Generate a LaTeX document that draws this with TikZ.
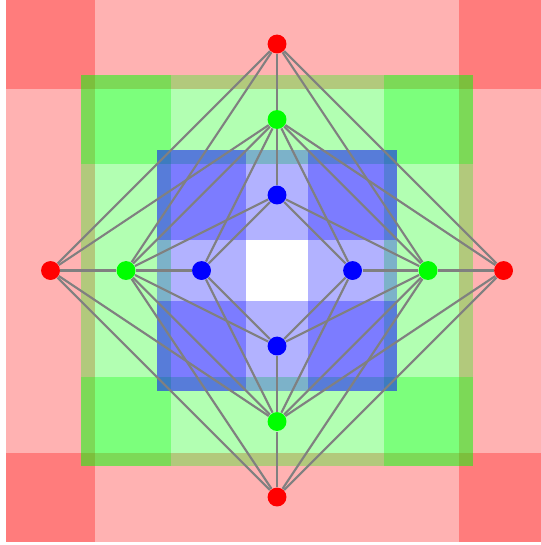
\documentclass[tikz,border=0pt]{standalone}
\usepackage{tikz}
\pgfdeclarelayer{bands}
\pgfdeclarelayer{edges}
\pgfsetlayers{bands,edges,main}
\tikzset{
  band/.style={fill opacity=0.3},
  edge/.style={draw=gray, line width=0.8pt},
  vertex/.style={circle, inner sep=0pt, minimum size=2.5mm},
  rv/.style={vertex, fill=red},
  gv/.style={vertex, fill=green},
  bv/.style={vertex, fill=blue},
}
\begin{document}
\begin{tikzpicture}
  \clip (-3.669,-3.635) rectangle (3.483,3.583);

  \node[rv] (rt) at (0,3) {};
  \node[rv] (rl) at (-3,0) {};
  \node[rv] (rr) at (3,0) {};
  \node[rv] (rb) at (0,-3) {};
  \node[gv] (gt) at (0,2) {};
  \node[gv] (gl) at (-2,0) {};
  \node[gv] (gr) at (2,0) {};
  \node[gv] (gb) at (0,-2) {};
  \node[bv] (bt) at (0,1) {};
  \node[bv] (bl) at (-1,0) {};
  \node[bv] (br) at (1,0) {};
  \node[bv] (bb) at (0,-1) {};

  \begin{pgfonlayer}{bands}
  % outer frame
  \fill[red, band] (-3.59,2.41) rectangle (3.59,3.59);
  \fill[red, band] (-3.59,-3.59) rectangle (3.59,-2.41);
  \fill[red, band] (-3.59,-3.59) rectangle (-2.41,3.59);
  \fill[red, band] (2.41,-3.59) rectangle (3.59,3.59);
  % middle frame
  \fill[green, band] (-2.59,1.41) rectangle (2.59,2.59);
  \fill[green, band] (-2.59,-2.59) rectangle (2.59,-1.41);
  \fill[green, band] (-2.59,-2.59) rectangle (-1.41,2.59);
  \fill[green, band] (1.41,-2.59) rectangle (2.59,2.59);
  % inner frame
  \fill[blue, band] (-1.59,0.41) rectangle (1.59,1.59);
  \fill[blue, band] (-1.59,-1.59) rectangle (1.59,-0.41);
  \fill[blue, band] (-1.59,-1.59) rectangle (-0.41,1.59);
  \fill[blue, band] (0.41,-1.59) rectangle (1.59,1.59);
  \end{pgfonlayer}

  \begin{pgfonlayer}{edges}
  % red ring
  \draw[edge] (rt) -- (rl);
  \draw[edge] (rl) -- (rb);
  \draw[edge] (rb) -- (rr);
  \draw[edge] (rr) -- (rt);
  % green ring
  \draw[edge] (gt) -- (gl);
  \draw[edge] (gl) -- (gb);
  \draw[edge] (gb) -- (gr);
  \draw[edge] (gr) -- (gt);
  % blue ring
  \draw[edge] (bt) -- (bl);
  \draw[edge] (bl) -- (bb);
  \draw[edge] (bb) -- (br);
  \draw[edge] (br) -- (bt);
  % red to green
  \draw[edge] (rt) -- (gt);
  \draw[edge] (rt) -- (gl);
  \draw[edge] (rt) -- (gr);
  \draw[edge] (rl) -- (gl);
  \draw[edge] (rl) -- (gt);
  \draw[edge] (rl) -- (gb);
  \draw[edge] (rr) -- (gr);
  \draw[edge] (rr) -- (gt);
  \draw[edge] (rr) -- (gb);
  \draw[edge] (rb) -- (gb);
  \draw[edge] (rb) -- (gl);
  \draw[edge] (rb) -- (gr);
  % green to blue
  \draw[edge] (gt) -- (bt);
  \draw[edge] (gt) -- (bl);
  \draw[edge] (gt) -- (br);
  \draw[edge] (gl) -- (bl);
  \draw[edge] (gl) -- (bt);
  \draw[edge] (gl) -- (bb);
  \draw[edge] (gr) -- (br);
  \draw[edge] (gr) -- (bt);
  \draw[edge] (gr) -- (bb);
  \draw[edge] (gb) -- (bb);
  \draw[edge] (gb) -- (bl);
  \draw[edge] (gb) -- (br);
  \end{pgfonlayer}
\end{tikzpicture}
\end{document}
